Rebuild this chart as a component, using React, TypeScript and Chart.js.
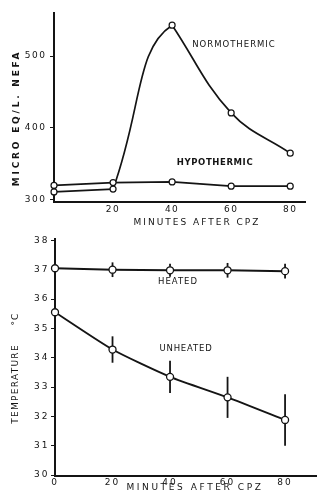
import React, { useEffect, useRef } from "react";
import { Chart, registerables } from "chart.js";
Chart.register(...registerables);

// ---------- data ----------
const minutes = [0, 20, 40, 60, 80];
const normothermic = [311, 315, 543, 421, 365];
const hypothermic = [320, 324, 325, 319, 319];
const nefaTicks = [300, 400, 500];
const topXTicks = [20, 40, 60, 80];

const heated = [37.05, 37.0, 36.98, 36.98, 36.95];
const heatedErr = [0, 0.25, 0.22, 0.25, 0.25];
const unheated = [35.55, 34.28, 33.35, 32.65, 31.88];
const unheatedErr = [0, 0.45, 0.55, 0.7, 0.88];
const tempTicks = [30, 31, 32, 33, 34, 35, 36, 37, 38];
const bottomXTicks = [0, 20, 40, 60, 80];

// ---------- styles ----------
const INK = "#141414";
const FONT = '"DejaVu Sans"';

type Label = { text: string; x: number; y: number; rot?: boolean; size?: number; spacing?: number; weight?: string };

const pts = (xs: number[], ys: number[], from = 0, to = xs.length - 1) =>
  xs.slice(from, to + 1).map((x, i) => ({ x, y: ys[from + i] }));

function textPlugin(labels: Label[], tickSpacing: number) {
  return {
    id: "texts",
    beforeDraw(chart: any) {
      chart.ctx.letterSpacing = `${tickSpacing}px`;
    },
    afterDraw(chart: any) {
      const ctx = chart.ctx;
      for (const l of labels) {
        ctx.save();
        ctx.letterSpacing = `${l.spacing ?? 1}px`;
        ctx.font = `${l.weight ?? "normal"} ${l.size ?? 9}px ${FONT}`;
        ctx.fillStyle = INK;
        ctx.textAlign = "center";
        ctx.textBaseline = "middle";
        ctx.translate(l.x, l.y);
        if (l.rot) ctx.rotate(-Math.PI / 2);
        ctx.fillText(l.text, 0, 0);
        ctx.restore();
      }
    },
  };
}

function errorBarPlugin(series: { values: number[]; errs: number[] }[]) {
  return {
    id: "errbars",
    beforeDatasetsDraw(chart: any) {
      const ctx = chart.ctx;
      const xs = chart.scales.x;
      const ys = chart.scales.y;
      ctx.save();
      ctx.strokeStyle = INK;
      ctx.lineWidth = 1.8;
      for (const s of series) {
        s.values.forEach((v, i) => {
          const e = s.errs[i];
          if (!e) return;
          const x = xs.getPixelForValue(minutes[i]);
          ctx.beginPath();
          ctx.moveTo(x, ys.getPixelForValue(v + e));
          ctx.lineTo(x, ys.getPixelForValue(v - e));
          ctx.stroke();
        });
      }
      ctx.restore();
    },
  };
}

function scales(opts: {
  xMin: number; xMax: number; xTicks: number[]; xHeight: number; xPad: number;
  yMin: number; yMax: number; yTicks: number[]; yWidth: number; yPad: number;
}) {
  const tickFont = { family: FONT, size: 9 };
  return {
    x: {
      type: "linear" as const,
      min: opts.xMin,
      max: opts.xMax,
      afterBuildTicks: (axis: any) => { axis.ticks = opts.xTicks.map((value) => ({ value })); },
      afterFit: (s: any) => { s.height = opts.xHeight; },
      grid: { display: false, drawTicks: false },
      border: { display: true, color: INK, width: 2 },
      ticks: { color: INK, font: tickFont, padding: opts.xPad, maxRotation: 0, autoSkip: false },
    },
    y: {
      type: "linear" as const,
      min: opts.yMin,
      max: opts.yMax,
      afterBuildTicks: (axis: any) => { axis.ticks = opts.yTicks.map((value) => ({ value })); },
      afterFit: (s: any) => { s.width = opts.yWidth; },
      grid: { display: true, drawOnChartArea: false, drawTicks: true, tickLength: 4, color: INK, lineWidth: 1 },
      border: { display: true, color: INK, width: 2 },
      ticks: { color: INK, font: tickFont, padding: opts.yPad, autoSkip: false },
    },
  };
}

function TopChart() {
  const ref = useRef<HTMLCanvasElement>(null);
  useEffect(() => {
    const marker = {
      pointRadius: 3,
      pointBackgroundColor: "#fff",
      pointBorderColor: INK,
      pointBorderWidth: 1.2,
    };
    const line = { borderColor: INK, borderWidth: 1.7, pointRadius: 0, clip: false };
    const chart = new Chart(ref.current!, {
      type: "line",
      data: {
        datasets: [
          // markers for normothermic
          { label: "Normothermic", data: pts(minutes, normothermic), showLine: false, ...marker, clip: false } as any,
          // hypothermic line + markers
          { label: "Hypothermic", data: pts(minutes, hypothermic), borderColor: INK, borderWidth: 1.7, tension: 0, ...marker, clip: false },
          // normothermic: baseline 0-20
          { label: "Normothermic base", data: pts(minutes, normothermic, 0, 1), ...line, tension: 0 },
          // normothermic: rise 20-40 (only first segment visible)
          {
            label: "Normothermic rise",
            data: pts(minutes, normothermic, 1, 4),
            ...line,
            tension: 0.5,
            segment: { borderColor: (c: any) => (c.p0DataIndex === 0 ? INK : "rgba(0,0,0,0)") },
          },
          // normothermic: fall 40-80
          { label: "Normothermic fall", data: pts(minutes, normothermic, 2, 4), ...line, tension: 0.4 },
        ],
      },
      options: {
        responsive: false,
        animation: false,
        layout: { padding: { left: 0, top: 13, right: 17, bottom: 0 } },
        plugins: { legend: { display: false }, tooltip: { enabled: false } },
        scales: scales({
          xMin: 0, xMax: 85, xTicks: topXTicks, xHeight: 30, xPad: 2,
          yMin: 297, yMax: 560, yTicks: nefaTicks, yWidth: 54, yPad: 3.5,
        }) as any,
      },
      plugins: [
        textPlugin(
          [
            { text: "NORMOTHERMIC", x: 234, y: 45, size: 8.5, spacing: 1 },
            { text: "HYPOTHERMIC", x: 215, y: 163, size: 8.5, spacing: 0.6, weight: "bold" },
            { text: "MINUTES AFTER CPZ", x: 197, y: 223, size: 9, spacing: 2 },
            { text: "MICRO EQ/L. NEFA", x: 17, y: 118, rot: true, size: 9, spacing: 2.8, weight: "bold" },
          ],
          1.5
        ),
      ],
    });
    return () => chart.destroy();
  }, []);
  return <canvas ref={ref} width={322} height={232} style={{ display: "block" }} />;
}

function BottomChart() {
  const ref = useRef<HTMLCanvasElement>(null);
  useEffect(() => {
    const marker = {
      pointRadius: 3.5,
      pointBackgroundColor: "#fff",
      pointBorderColor: INK,
      pointBorderWidth: 1.3,
    };
    const chart = new Chart(ref.current!, {
      type: "line",
      data: {
        datasets: [
          { label: "Heated", data: pts(minutes, heated), borderColor: INK, borderWidth: 1.9, tension: 0, ...marker, clip: false } as any,
          { label: "Unheated", data: pts(minutes, unheated), borderColor: INK, borderWidth: 1.9, tension: 0.2, ...marker, clip: false },
        ],
      },
      options: {
        responsive: false,
        animation: false,
        layout: { padding: { left: 0, top: 6, right: 0, bottom: 0 } },
        plugins: { legend: { display: false }, tooltip: { enabled: false } },
        scales: scales({
          xMin: 0, xMax: 91, xTicks: bottomXTicks, xHeight: 27, xPad: 1,
          yMin: 29.97, yMax: 38.05, yTicks: tempTicks, yWidth: 55, yPad: 1.5,
        }) as any,
      },
      plugins: [
        errorBarPlugin([
          { values: heated, errs: heatedErr },
          { values: unheated, errs: unheatedErr },
        ]),
        textPlugin(
          [
            { text: "HEATED", x: 178, y: 50, size: 8.5, spacing: 1 },
            { text: "UNHEATED", x: 186, y: 117, size: 8.5, spacing: 0.8 },
            { text: "MINUTES AFTER CPZ", x: 195, y: 256, size: 9, spacing: 2.6 },
            { text: "TEMPERATURE", x: 16, y: 152, rot: true, size: 9, spacing: 1.3 },
            { text: "°C", x: 16, y: 87, rot: true, size: 9, spacing: 1 },
          ],
          2
        ),
      ],
    });
    return () => chart.destroy();
  }, []);
  return <canvas ref={ref} width={322} height={271} style={{ display: "block" }} />;
}

export default function App() {
  return (
    <div style={{ position: "fixed", left: 0, top: 0, width: 322, height: 503, background: "#fff", overflow: "hidden" }}>
      <div style={{ position: "absolute", left: 0, top: 0 }}>
        <TopChart />
      </div>
      <div style={{ position: "absolute", left: 0, top: 232 }}>
        <BottomChart />
      </div>
    </div>
  );
}
